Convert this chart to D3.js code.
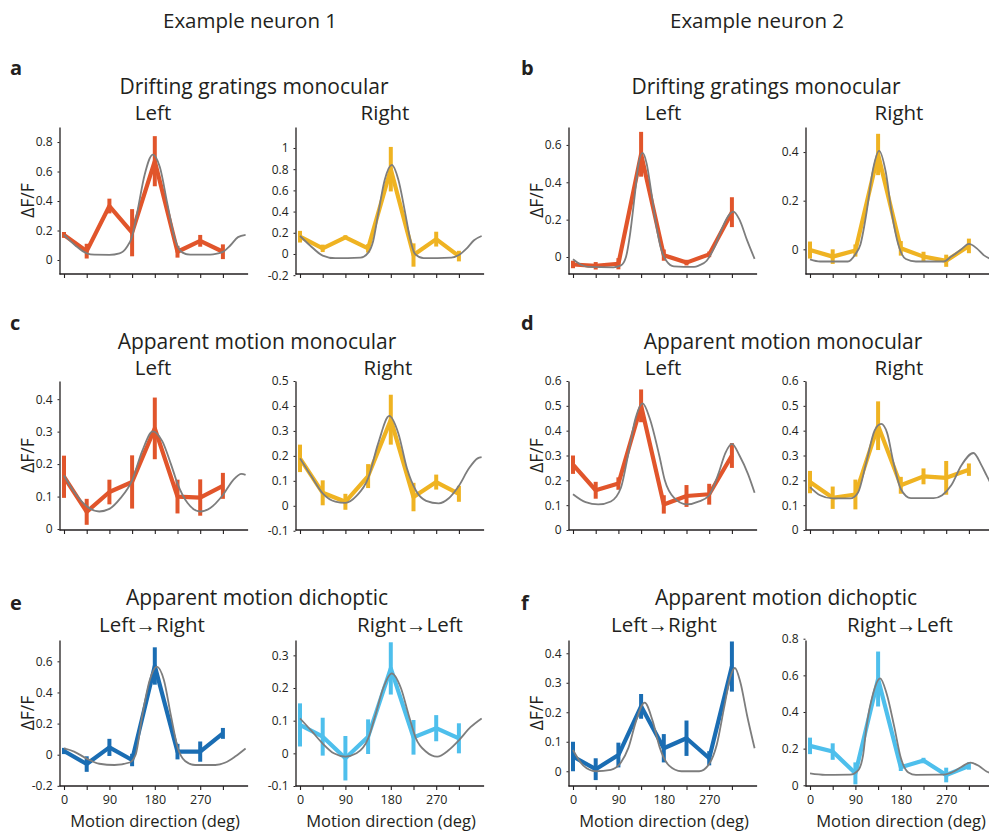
<!DOCTYPE html>
<html><head><meta charset="utf-8">
<script src="https://cdn.jsdelivr.net/npm/d3@7"></script>
<style>body{margin:0;background:#fff}</style>
</head><body>
<svg id="c" width="989" height="831"></svg>
<script>
// ---------------- DATA ----------------
const directions = [0,45,90,135,180,225,270,315];
const xTickLabels = [0,90,180,270];

// Neuron 1, drifting gratings, Left / Right
const aLeftMean  = [0.17,0.06,0.366,0.185,0.67,0.056,0.13,0.056];
const aLeftErr   = [0.02,0.05,0.05,0.16,0.17,0.04,0.04,0.05];
const aLeftFit   = [[0,0.17],[22,0.1],[45,0.045],[60,0.036],[90,0.035],[110,0.045],[125,0.09],[135,0.16],[145,0.32],[160,0.58],[176,0.715],[190,0.63],[205,0.38],[220,0.14],[235,0.05],[250,0.036],[290,0.036],[305,0.045],[315,0.055],[330,0.1],[345,0.155],[360,0.17]];
const aLeftTicks = [0,0.2,0.4,0.6,0.8];

const aRightMean = [0.163,0.053,0.157,0.053,0.8,-0.01,0.14,-0.02];
const aRightErr  = [0.055,0.035,0.02,0.04,0.21,0.11,0.07,0.05];
const aRightFit  = [[0,0.17],[20,0.08],[45,-0.015],[70,-0.04],[120,-0.035],[135,0.01],[145,0.12],[155,0.38],[168,0.7],[182,0.84],[195,0.7],[208,0.4],[218,0.15],[228,0.0],[245,-0.04],[300,-0.035],[315,-0.01],[330,0.05],[345,0.13],[360,0.17]];
const aRightTicks = [-0.2,0,0.2,0.4,0.6,0.8,1];

// Neuron 2, drifting gratings
const bLeftMean  = [-0.04,-0.047,-0.036,0.55,0.01,-0.03,0.014,0.24];
const bLeftErr   = [0.02,0.02,0.03,0.12,0.03,0.015,0.015,0.08];
const bLeftFit   = [[0,-0.012],[15,-0.04],[30,-0.053],[80,-0.055],[95,-0.045],[105,0.0],[113,0.12],[122,0.32],[130,0.5],[138,0.557],[146,0.5],[155,0.35],[165,0.17],[175,0.04],[185,-0.02],[200,-0.05],[240,-0.053],[250,-0.045],[265,-0.02],[280,0.05],[295,0.15],[308,0.22],[318,0.243],[330,0.2],[345,0.09],[360,-0.01]];
const bLeftTicks = [0,0.2,0.4,0.6];

const bRightMean = [-0.003,-0.03,-0.005,0.39,0.004,-0.03,-0.047,0.014];
const bRightErr  = [0.035,0.03,0.025,0.085,0.03,0.02,0.025,0.03];
const bRightFit  = [[0,-0.041],[20,-0.05],[75,-0.05],[90,-0.02],[100,0.02],[112,0.15],[125,0.33],[137,0.405],[150,0.32],[162,0.15],[175,0.02],[190,-0.04],[210,-0.05],[265,-0.05],[280,-0.03],[300,0.0],[315,0.022],[330,0.005],[345,-0.025],[360,-0.041]];
const bRightTicks = [0,0.2,0.4];

// Neuron 1, apparent motion monocular
const cLeftMean  = [0.161,0.053,0.114,0.145,0.31,0.1,0.097,0.133];
const cLeftErr   = [0.065,0.04,0.038,0.082,0.095,0.052,0.056,0.04];
const cLeftFit   = [[0,0.165],[22,0.11],[45,0.07],[70,0.054],[90,0.062],[112,0.095],[135,0.15],[155,0.24],[176,0.301],[195,0.27],[212,0.2],[225,0.14],[245,0.08],[270,0.054],[290,0.065],[315,0.105],[335,0.15],[352,0.17],[360,0.167]];
const cLeftTicks = [0,0.1,0.2,0.3,0.4];

const cRightMean = [0.19,0.052,0.016,0.119,0.345,0.035,0.095,0.048];
const cRightErr  = [0.055,0.05,0.032,0.048,0.1,0.057,0.03,0.032];
const cRightFit  = [[0,0.19],[22,0.12],[45,0.05],[70,0.017],[90,0.012],[112,0.04],[135,0.11],[155,0.25],[177,0.36],[195,0.29],[212,0.15],[230,0.06],[250,0.02],[275,0.01],[295,0.03],[315,0.08],[335,0.15],[352,0.19],[360,0.195]];
const cRightTicks = [-0.1,0,0.1,0.2,0.3,0.4,0.5];

// Neuron 2, apparent motion monocular
const dLeftMean  = [0.263,0.16,0.187,0.5,0.103,0.137,0.144,0.3];
const dLeftErr   = [0.037,0.034,0.025,0.066,0.037,0.044,0.042,0.05];
const dLeftFit   = [[0,0.144],[25,0.112],[50,0.103],[75,0.115],[95,0.17],[109,0.3],[124,0.45],[138,0.51],[152,0.45],[171,0.3],[182,0.2],[200,0.13],[225,0.103],[250,0.115],[270,0.14],[288,0.225],[302,0.31],[315,0.347],[330,0.3],[347,0.225],[360,0.15]];
const dLeftTicks = [0,0.1,0.2,0.3,0.4,0.5,0.6];

const dRightMean = [0.193,0.13,0.143,0.42,0.18,0.216,0.21,0.243];
const dRightErr  = [0.045,0.045,0.06,0.098,0.034,0.032,0.068,0.025];
const dRightFit  = [[0,0.173],[20,0.14],[45,0.127],[80,0.127],[95,0.15],[112,0.276],[128,0.4],[141,0.427],[153,0.39],[165,0.276],[180,0.165],[200,0.128],[245,0.128],[262,0.14],[280,0.18],[300,0.26],[324,0.31],[340,0.26],[350,0.22],[360,0.18]];
const dRightTicks = [0,0.1,0.2,0.3,0.4,0.5,0.6];

// Neuron 1, apparent motion dichoptic
const eLeftMean  = [0.024,-0.06,0.047,-0.034,0.57,0.02,0.02,0.137];
const eLeftErr   = [0.02,0.05,0.055,0.04,0.12,0.05,0.065,0.035];
const eLeftFit   = [[0,0.04],[20,0.02],[45,-0.025],[70,-0.058],[100,-0.066],[130,-0.05],[142,0.0],[155,0.25],[170,0.48],[184,0.566],[198,0.48],[212,0.25],[225,0.05],[240,-0.04],[260,-0.066],[300,-0.066],[320,-0.05],[340,-0.01],[360,0.04]];
const eLeftTicks = [-0.2,0,0.2,0.4,0.6];

const eRightMean = [0.087,0.051,-0.015,0.051,0.26,0.049,0.077,0.046];
const eRightErr  = [0.066,0.058,0.068,0.053,0.08,0.053,0.04,0.046];
const eRightFit  = [[0,0.107],[22,0.07],[45,0.03],[67,0.0],[90,-0.01],[112,0.0],[135,0.045],[150,0.12],[165,0.2],[182,0.245],[200,0.2],[215,0.12],[230,0.045],[250,0.005],[272,-0.01],[295,0.01],[315,0.04],[338,0.08],[360,0.107]];
const eRightTicks = [-0.1,0,0.1,0.2,0.3];

// Neuron 2, apparent motion dichoptic
const fLeftMean  = [0.05,0.007,0.055,0.22,0.078,0.112,0.044,0.355];
const fLeftErr   = [0.05,0.037,0.042,0.042,0.048,0.06,0.024,0.085];
const fLeftFit   = [[0,0.072],[20,0.02],[45,0.0],[75,0.005],[95,0.03],[110,0.08],[125,0.17],[142,0.233],[158,0.17],[172,0.08],[190,0.02],[215,0.0],[250,0.0],[268,0.02],[285,0.09],[300,0.22],[312,0.32],[321,0.35],[332,0.3],[345,0.19],[360,0.078]];
const fLeftTicks = [0,0.1,0.2,0.3,0.4];

const fRightMean = [0.215,0.184,0.065,0.58,0.098,0.135,0.056,0.105];
const fRightErr  = [0.045,0.045,0.06,0.15,0.02,0.015,0.04,0.02];
const fRightFit  = [[0,0.065],[30,0.057],[80,0.058],[95,0.08],[105,0.16],[112,0.32],[125,0.5],[139,0.584],[152,0.5],[167,0.32],[180,0.15],[195,0.07],[210,0.057],[265,0.058],[285,0.075],[300,0.1],[318,0.124],[335,0.105],[350,0.075],[360,0.065]];
const fRightTicks = [0,0.2,0.4,0.6,0.8];

// ---------------- LAYOUT / STYLE ----------------
const ORANGE = "#E1552B", YELLOW = "#EFB322", BLUE = "#1A6DB3", LBLUE = "#4EBFEC";
const FIT = "#7d7d7d", INK = "#231f20";
const FONT = "'Open Sans', 'Noto Sans', sans-serif";

const colX0 = [64, 300, 573, 810];      // pixel of 0 deg
const rowTB = [[127,274],[381,530],[640,786]];

const panels = [
  {col:0,row:0,mean:aLeftMean, err:aLeftErr, fit:aLeftFit, ticks:aLeftTicks, color:ORANGE, lo:-0.095, hi:0.902},
  {col:1,row:0,mean:aRightMean,err:aRightErr,fit:aRightFit,ticks:aRightTicks,color:YELLOW, lo:-0.189, hi:1.198},
  {col:2,row:0,mean:bLeftMean, err:bLeftErr, fit:bLeftFit, ticks:bLeftTicks, color:ORANGE, lo:-0.091, hi:0.696},
  {col:3,row:0,mean:bRightMean,err:bRightErr,fit:bRightFit,ticks:bRightTicks,color:YELLOW, lo:-0.1015,hi:0.503},
  {col:0,row:1,mean:cLeftMean, err:cLeftErr, fit:cLeftFit, ticks:cLeftTicks, color:ORANGE, lo:-0.003, hi:0.456},
  {col:1,row:1,mean:cRightMean,err:cRightErr,fit:cRightFit,ticks:cRightTicks,color:YELLOW, lo:-0.097, hi:0.5},
  {col:2,row:1,mean:dLeftMean, err:dLeftErr, fit:dLeftFit, ticks:dLeftTicks, color:ORANGE, lo:0.0, hi:0.6},
  {col:3,row:1,mean:dRightMean,err:dRightErr,fit:dRightFit,ticks:dRightTicks,color:YELLOW, lo:0.0, hi:0.6},
  {col:0,row:2,mean:eLeftMean, err:eLeftErr, fit:eLeftFit, ticks:eLeftTicks, color:BLUE,  lo:-0.201, hi:0.737},
  {col:1,row:2,mean:eRightMean,err:eRightErr,fit:eRightFit,ticks:eRightTicks,color:LBLUE, lo:-0.1, hi:0.347},
  {col:2,row:2,mean:fLeftMean, err:fLeftErr, fit:fLeftFit, ticks:fLeftTicks, color:BLUE,  lo:-0.05, hi:0.445},
  {col:3,row:2,mean:fRightMean,err:fRightErr,fit:fRightFit,ticks:fRightTicks,color:LBLUE, lo:-0.004, hi:0.793}
];

const svg = d3.select("#c");
const fmt = v => String(+v.toFixed(2));

panels.forEach(p => {
  const x0 = colX0[p.col];
  const [top, bottom] = rowTB[p.row];
  const x = d3.scaleLinear().domain([0,360]).range([x0, x0 + 181.6]);
  const y = d3.scaleLinear().domain([p.lo, p.hi]).range([bottom, top]);
  const axisX = x0 - 4.5;
  const g = svg.append("g");

  // y axis
  const ya = g.append("g").attr("transform", `translate(${axisX},0)`)
    .call(d3.axisLeft(y).tickValues(p.ticks).tickSize(2).tickSizeOuter(0).tickPadding(5).tickFormat(fmt));
  ya.select(".domain").attr("stroke", INK).attr("stroke-width", 1.3);
  ya.selectAll(".tick line").attr("stroke", INK);
  ya.selectAll(".tick text").attr("fill", INK).style("font-family", FONT).style("font-size", "12px");

  // x axis
  const xa = g.append("g").attr("transform", `translate(0,${bottom})`)
    .call(d3.axisBottom(x).tickValues(directions).tickSize(4).tickFormat(d => (p.row === 2 && xTickLabels.includes(d)) ? d : ""));
  xa.select(".domain").remove();
  xa.selectAll(".tick line").attr("stroke", INK).attr("stroke-width", 1.1);
  xa.selectAll(".tick text").attr("fill", INK).style("font-family", FONT).style("font-size", "12.5px").attr("dy", "0.9em");
  g.append("line").attr("x1", axisX).attr("x2", x(360) + 2.5).attr("y1", bottom).attr("y2", bottom)
    .attr("stroke", INK).attr("stroke-width", 1.3);

  const pts = directions.map((d,i) => ({d, v:p.mean[i], e:p.err[i]}));
  // data line
  g.append("path").datum(pts)
    .attr("d", d3.line().x(q => x(q.d)).y(q => y(q.v)))
    .attr("fill","none").attr("stroke", p.color).attr("stroke-width", 4.2).attr("stroke-linejoin","round");
  // error bars
  g.selectAll(".eb").data(pts).join("line")
    .attr("x1", q => x(q.d)).attr("x2", q => x(q.d))
    .attr("y1", q => y(q.v - q.e)).attr("y2", q => y(q.v + q.e))
    .attr("stroke", p.color).attr("stroke-width", 4);
  // fit curve
  g.append("path").datum(p.fit)
    .attr("d", d3.line().x(q => x(q[0])).y(q => y(q[1])).curve(d3.curveMonotoneX))
    .attr("fill","none").attr("stroke", FIT).attr("stroke-width", 1.8);
});

// ---------------- TEXT ----------------
function txt(xp, yp, s, size, opts={}) {
  const t = svg.append("text").attr("x", xp).attr("y", yp).text(s)
    .attr("fill", INK).style("font-family", FONT).style("font-size", size + "px")
    .attr("text-anchor", opts.anchor || "middle");
  if (opts.bold) t.style("font-weight", "bold");
  if (opts.rotate) t.attr("transform", `rotate(-90,${xp},${yp})`);
  return t;
}
txt(250, 28, "Example neuron 1", 20.5);
txt(757, 28, "Example neuron 2", 20.5);

const letters = [["a",10,75],["b",521,75],["c",10,330],["d",521,330],["e",10,610],["f",521,610]];
letters.forEach(l => txt(l[1], l[2], l[0], 20, {anchor:"start", bold:true}));

const titles = [
  ["Drifting gratings monocular", 254, 94, 766],
  ["Apparent motion monocular", 257, 349, 783],
  ["Apparent motion dichoptic", 257, 605, 786]
];
titles.forEach(t => { txt(t[1], t[2], t[0], 21); txt(t[3], t[2], t[0], 21); });

const subs = [
  [["Left",153],["Right",385],["Left",663],["Right",899]], 
  [["Left",153],["Right",388],["Left",663],["Right",899]],
  [["Left\u2192Right",152],["Right\u2192Left",410],["Left\u2192Right",664],["Right\u2192Left",900]]
];
const subY = [120, 375, 632];
subs.forEach((row,i) => row.forEach(s => txt(s[1], subY[i], s[0], 20.5)));

[0,1,2].forEach(r => {
  const mid = (rowTB[r][0] + rowTB[r][1]) / 2;
  txt(34, mid, "ΔF/F", 17.5, {rotate:true});
  txt(543, mid, "ΔF/F", 17.5, {rotate:true});
});
[155, 391, 664, 901].forEach(cx => txt(cx, 827, "Motion direction (deg)", 16.5));
</script>
</body></html>
